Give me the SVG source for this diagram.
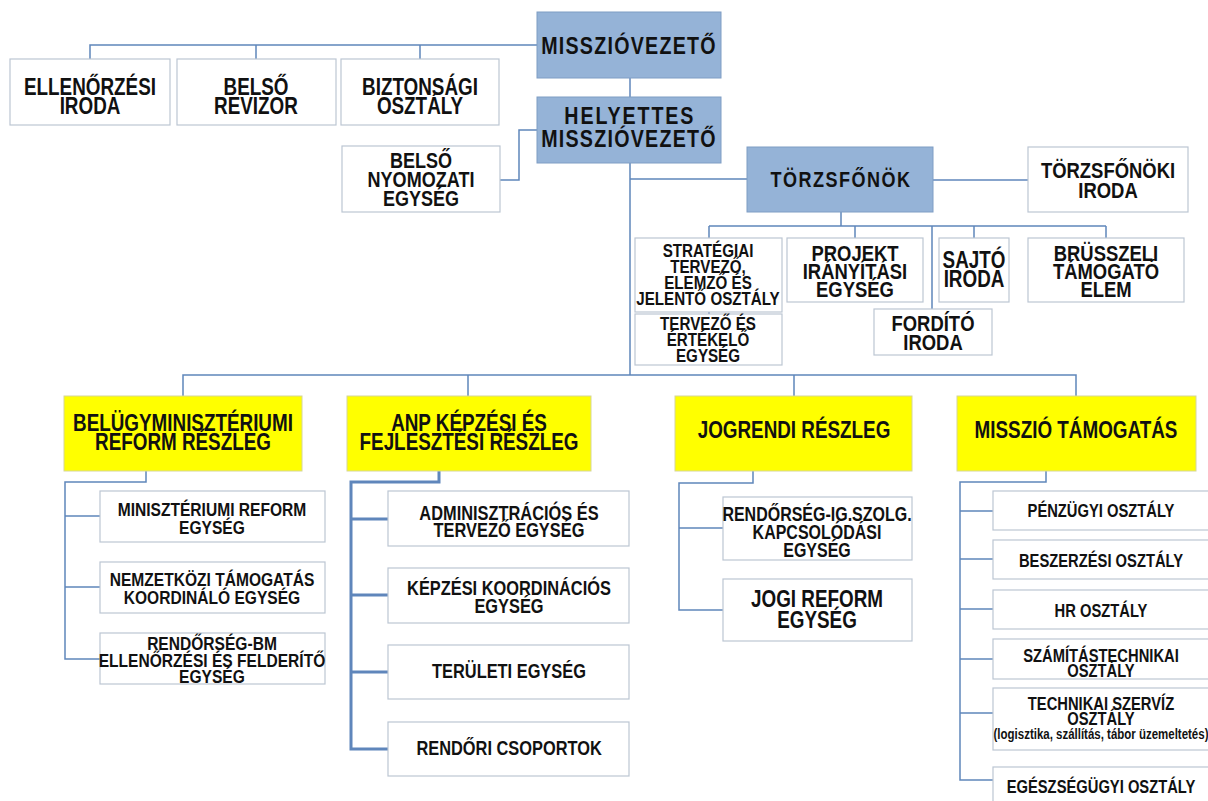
<svg xmlns="http://www.w3.org/2000/svg" width="1208" height="801" viewBox="0 0 1208 801">
<style>
.bg{fill:#ffffff}
.blue{fill:#95b3d7;stroke:#7f9dc4;stroke-width:1}
.yel{fill:#ffff00;stroke:#d6d69a;stroke-width:1}
.wht{fill:#ffffff;stroke:#bcc6d3;stroke-width:1.2}
.c{fill:none;stroke:#5f86bb;stroke-width:1.5}
.c2{fill:none;stroke:#5f86bb;stroke-width:3}
text{font-family:"Liberation Sans Narrow","Arial Narrow","Liberation Sans",Arial,sans-serif;font-weight:bold;fill:#111;text-anchor:middle;transform-box:fill-box;transform-origin:center;transform:scaleX(0.82)}
.tb{font-size:24px;letter-spacing:1.5px}
.th{letter-spacing:2.3px}
.tt{font-size:22px;letter-spacing:1.8px}
.t23{font-size:23px}
.t225{font-size:22.5px}
.t22{font-size:22px}
.t20{font-size:20px}
.t195{font-size:19.5px}
.t19{font-size:19px}
.t185{font-size:18.5px}
.t18{font-size:18px}
.t14{font-size:14px}
</style>
<rect class="bg" x="0" y="0" width="1208" height="801"/>
<g id="connectors">
<path class="c" d="M537,45 H90 V59 M256,45 V59 M420,45 V59"/>
<path class="c" d="M630,78 V97"/>
<path class="c" d="M537,130 H519 V180 H500"/>
<path class="c" d="M630,163 V375 M630,179 H747"/>
<path class="c" d="M933,180 H1028"/>
<path class="c" d="M841,212 V226 M709,226 H1106 M709,226 V238 M855,226 V238 M932,226 V309 M974,226 V238 M1106,226 V238"/>
<path class="c" d="M709,312 V314"/>
<path class="c" d="M183,396 V375 H1076 V396 M468,375 V396 M794,375 V396"/>
<path class="c" d="M146,471 V482 H65 V659 H100 M65,516 H100 M65,587 H100"/>
<path class="c2" d="M439,471 V482 H351 V749 H388 M351,519 H388 M351,595 H388 M351,672 H388"/>
<path class="c" d="M753,471 V483 H679 V610 H723 M679,528 H723"/>
<path class="c" d="M1046,471 V482 H960 V780 H993 M960,511 H993 M960,559 H993 M960,609 H993 M960,659 H993 M960,713 H993"/>
</g>
<g id="n-missziovezeto"><rect class="blue" x="537" y="12" width="184" height="66"/><text class="tb" x="629" y="54">MISSZIÓVEZETŐ</text></g>
<g id="n-ellenorzesi"><rect class="wht" x="10" y="59" width="160" height="66"/><text class="t23"><tspan x="90" y="95">ELLENŐRZÉSI</tspan><tspan x="90" y="114">IRODA</tspan></text></g>
<g id="n-belso-revizor"><rect class="wht" x="177" y="59" width="159" height="66"/><text class="t23"><tspan x="256" y="95">BELSŐ</tspan><tspan x="256" y="114">REVIZOR</tspan></text></g>
<g id="n-biztonsagi"><rect class="wht" x="341" y="59" width="158" height="66"/><text class="t23"><tspan x="420" y="95">BIZTONSÁGI</tspan><tspan x="420" y="114">OSZTÁLY</tspan></text></g>
<g id="n-helyettes"><rect class="blue" x="537" y="97" width="184" height="66"/><text class="tb"><tspan class="th" x="630" y="124">HELYETTES</tspan><tspan x="629" y="147">MISSZIÓVEZETŐ</tspan></text></g>
<g id="n-belso-nyomozati"><rect class="wht" x="342" y="146" width="158" height="66"/><text class="t22"><tspan x="421" y="168">BELSŐ</tspan><tspan x="421" y="187">NYOMOZATI</tspan><tspan x="421" y="206">EGYSÉG</tspan></text></g>
<g id="n-torzsfonok"><rect class="blue" x="747" y="147" width="186" height="65"/><text class="tt" x="841" y="187">TÖRZSFŐNÖK</text></g>
<g id="n-torzsfonoki-iroda"><rect class="wht" x="1028" y="147" width="160" height="65"/><text class="t225"><tspan x="1108" y="178">TÖRZSFŐNÖKI</tspan><tspan x="1108" y="198">IRODA</tspan></text></g>
<g id="n-strategiai"><rect class="wht" x="635" y="238" width="147" height="74"/><text class="t185"><tspan x="708" y="257">STRATÉGIAI</tspan><tspan x="708" y="273">TERVEZŐ,</tspan><tspan x="708" y="289">ELEMZŐ ÉS</tspan><tspan x="708" y="305">JELENTŐ OSZTÁLY</tspan></text></g>
<g id="n-tervezo-ertekelo"><rect class="wht" x="635" y="314" width="147" height="51"/><text class="t185"><tspan x="708" y="330">TERVEZŐ ÉS</tspan><tspan x="708" y="346">ÉRTÉKELŐ</tspan><tspan x="708" y="362">EGYSÉG</tspan></text></g>
<g id="n-projekt"><rect class="wht" x="787" y="238" width="136" height="64"/><text class="t225"><tspan x="855" y="261">PROJEKT</tspan><tspan x="855" y="279">IRÁNYÍTÁSI</tspan><tspan x="855" y="297">EGYSÉG</tspan></text></g>
<g id="n-sajto"><rect class="wht" x="939" y="238" width="70" height="64"/><text class="t23"><tspan x="974" y="268">SAJTÓ</tspan><tspan x="974" y="287">IRODA</tspan></text></g>
<g id="n-fordito"><rect class="wht" x="874" y="309" width="118" height="46"/><text class="t225"><tspan x="933" y="331">FORDÍTÓ</tspan><tspan x="933" y="350">IRODA</tspan></text></g>
<g id="n-brusszeli"><rect class="wht" x="1028" y="238" width="156" height="64"/><text class="t225"><tspan x="1106" y="261">BRÜSSZELI</tspan><tspan x="1106" y="279">TÁMOGATÓ</tspan><tspan x="1106" y="297">ELEM</tspan></text></g>
<g id="n-belugy"><rect class="yel" x="64" y="396" width="238" height="75"/><text class="t23"><tspan x="183" y="431">BELÜGYMINISZTÉRIUMI</tspan><tspan x="183" y="450">REFORM RÉSZLEG</tspan></text></g>
<g id="n-anp"><rect class="yel" x="347" y="396" width="244" height="75"/><text class="t23"><tspan x="469" y="431">ANP KÉPZÉSI ÉS</tspan><tspan x="469" y="450">FEJLESZTÉSI RÉSZLEG</tspan></text></g>
<g id="n-jogrendi"><rect class="yel" x="675" y="396" width="237" height="75"/><text class="t23" x="794" y="438">JOGRENDI RÉSZLEG</text></g>
<g id="n-misszio-tamogatas"><rect class="yel" x="957" y="396" width="239" height="75"/><text class="t23" x="1076" y="438">MISSZIÓ TÁMOGATÁS</text></g>
<g id="n-miniszteriumi"><rect class="wht" x="100" y="491" width="225" height="51"/><text class="t19"><tspan x="212" y="516">MINISZTÉRIUMI REFORM</tspan><tspan x="212" y="534">EGYSÉG</tspan></text></g>
<g id="n-nemzetkozi"><rect class="wht" x="100" y="562" width="225" height="51"/><text class="t19"><tspan x="212" y="586">NEMZETKÖZI TÁMOGATÁS</tspan><tspan x="212" y="604">KOORDINÁLÓ EGYSÉG</tspan></text></g>
<g id="n-rendorseg-bm"><rect class="wht" x="100" y="633" width="225" height="51"/><text class="t19"><tspan x="212" y="650">RENDŐRSÉG-BM</tspan><tspan x="212" y="667">ELLENŐRZÉSI ÉS FELDERÍTŐ</tspan><tspan x="212" y="683">EGYSÉG</tspan></text></g>
<g id="n-adminisztracios"><rect class="wht" x="388" y="491" width="241" height="55"/><text class="t20"><tspan x="509" y="520">ADMINISZTRÁCIÓS ÉS</tspan><tspan x="509" y="537">TERVEZŐ EGYSÉG</tspan></text></g>
<g id="n-kepzesi"><rect class="wht" x="388" y="568" width="241" height="55"/><text class="t20"><tspan x="509" y="595">KÉPZÉSI KOORDINÁCIÓS</tspan><tspan x="509" y="613">EGYSÉG</tspan></text></g>
<g id="n-teruleti"><rect class="wht" x="388" y="645" width="241" height="54"/><text class="t20" x="509" y="678">TERÜLETI EGYSÉG</text></g>
<g id="n-rendori"><rect class="wht" x="388" y="722" width="241" height="54"/><text class="t20" x="509" y="755">RENDŐRI CSOPORTOK</text></g>
<g id="n-rendorseg-ig"><rect class="wht" x="723" y="497" width="189" height="63"/><text class="t195"><tspan x="817" y="521">RENDŐRSÉG-IG.SZOLG.</tspan><tspan x="817" y="539">KAPCSOLÓDÁSI</tspan><tspan x="817" y="557">EGYSÉG</tspan></text></g>
<g id="n-jogi-reform"><rect class="wht" x="723" y="579" width="189" height="62"/><text class="t23"><tspan x="817" y="607">JOGI REFORM</tspan><tspan x="817" y="628">EGYSÉG</tspan></text></g>
<g id="n-penzugyi"><rect class="wht" x="993" y="491" width="216" height="39"/><text class="t18" x="1101" y="517">PÉNZÜGYI OSZTÁLY</text></g>
<g id="n-beszerzesi"><rect class="wht" x="993" y="540" width="216" height="39"/><text class="t18" x="1101" y="567">BESZERZÉSI OSZTÁLY</text></g>
<g id="n-hr"><rect class="wht" x="993" y="590" width="216" height="39"/><text class="t18" x="1101" y="617">HR OSZTÁLY</text></g>
<g id="n-szamitastechnikai"><rect class="wht" x="993" y="639" width="216" height="40"/><text class="t18"><tspan x="1101" y="662">SZÁMÍTÁSTECHNIKAI</tspan><tspan x="1101" y="677">OSZTÁLY</tspan></text></g>
<g id="n-technikai"><rect class="wht" x="993" y="688" width="216" height="62"/><text class="t18"><tspan x="1101" y="710">TECHNIKAI SZERVÍZ</tspan><tspan x="1101" y="725">OSZTÁLY</tspan><tspan class="t14" x="1101" y="739">(logisztika, szállítás, tábor üzemeltetés)</tspan></text></g>
<g id="n-egeszsegugyi"><rect class="wht" x="993" y="767" width="216" height="40"/><text class="t18" x="1101" y="793">EGÉSZSÉGÜGYI OSZTÁLY</text></g>
</svg>
